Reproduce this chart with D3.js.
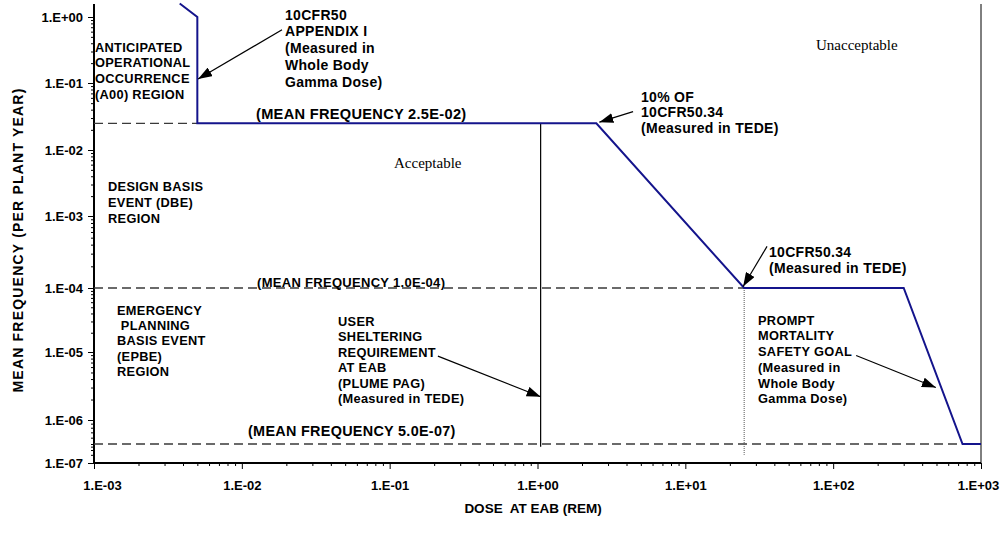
<!DOCTYPE html>
<html><head><meta charset="utf-8">
<script src="https://cdn.jsdelivr.net/npm/d3@7"></script>
<style>
html,body{margin:0;padding:0;background:#fff;}
svg{display:block;}
</style></head>
<body>
<svg id="chart" width="1007" height="546"></svg>
<script>
// ---- data ----
const xTickValues = [1e-3, 1e-2, 1e-1, 1e0, 1e1, 1e2, 1e3];
const yTickValues = [1e0, 1e-1, 1e-2, 1e-3, 1e-4, 1e-5, 1e-6, 1e-7];
// limit curve (dose in rem, frequency per plant year)
const limitDose = [0.0038, 0.005, 0.005, 2.5, 25, 300, 750, 1000];
const limitFreq = [1.6, 1.0, 0.025, 0.025, 1e-4, 1e-4, 5e-7, 5e-7];
// mean frequency reference levels (dashed)
const meanFreq = [2.5e-2, 1.0e-4, 5.0e-7];
const meanFreqEndDose = [0.005, 25, 750];
const meanFreqLabels = ["(MEAN FREQUENCY 2.5E-02)", "(MEAN FREQUENCY 1.0E-04)", "(MEAN FREQUENCY 5.0E-07)"];
// PAG vertical line and 10CFR50.34 dotted line
const pagDose = 1.05, pagFreq = [2.5e-2, 4e-7];
const cfrDose = 25, cfrFreq = [1e-4, 2e-7];
// arrows [tailDose, tailFreq, headDose, headFreq]
const arrows = [
  [0.0187, 0.64, 0.00506, 0.115],
  [4.43, 0.0373, 2.62, 0.026],
  [35.7, 3.78e-4, 24.6, 1.05e-4],
  [143, 8.9e-6, 495, 3.0e-6],
  [0.212, 8.7e-6, 1.05, 2.2e-6]
];

// ---- layout ----
const SANS = "'Liberation Sans',Arial,Helvetica,sans-serif";
const SERIF = "'Liberation Serif','Times New Roman',serif";
const svg = d3.select("#chart");
const x = d3.scaleLog().domain([1e-3, 1e3]).range([94, 981]);
// the reference axis has slightly uneven decade spacing; use a piecewise log scale
const y = d3.scaleLog()
  .domain([1e0, 1e-1, 1e-2, 1e-3, 1e-4, 1e-5, 1e-6, 5e-7, 1e-7])
  .range([17, 83, 150, 216, 288, 352, 420, 444, 463]);
const fmt = d => { const e = Math.round(Math.log10(d)); return "1.E" + (e >= 0 ? "+" : "-") + String(Math.abs(e)).padStart(2, "0"); };

svg.append("rect").attr("width", 1007).attr("height", 546).attr("fill", "#fff");

const defs = svg.append("defs");
defs.append("marker").attr("id", "ah").attr("viewBox", "0 0 14 10")
  .attr("refX", 14).attr("refY", 5).attr("markerWidth", 14).attr("markerHeight", 10)
  .attr("markerUnits", "userSpaceOnUse").attr("orient", "auto")
  .append("path").attr("d", "M0,0 L14,5 L0,10 Z").attr("fill", "#000");

// minor ticks
const minorX = [], minorY = [];
for (let e = -3; e < 3; e++) for (let m = 2; m <= 9; m++) minorX.push(m * Math.pow(10, e));
for (let e = -7; e < 0; e++) for (let m = 2; m <= 9; m++) minorY.push(m * Math.pow(10, e));

const xAxis = svg.append("g").attr("transform", "translate(0,463)")
  .call(d3.axisBottom(x).tickValues(xTickValues).tickFormat(fmt).tickSize(6).tickPadding(12));
svg.append("g").attr("transform", "translate(0,463)")
  .call(d3.axisBottom(x).tickValues(minorX).tickFormat("").tickSize(3))
  .call(g => g.select(".domain").remove());
const yAxis = svg.append("g").attr("transform", "translate(94,0)")
  .call(d3.axisLeft(y).tickValues(yTickValues).tickFormat(fmt).tickSize(6).tickPadding(5));
svg.append("g").attr("transform", "translate(94,0)")
  .call(d3.axisLeft(y).tickValues(minorY).tickFormat("").tickSize(3))
  .call(g => g.select(".domain").remove());

[xAxis, yAxis].forEach(g => {
  g.selectAll("text").attr("font-size", 13).attr("font-weight", "bold").attr("fill", "#000")
    .style("font-family", SANS);
  g.selectAll("line").attr("stroke", "#000");
});
svg.selectAll(".domain").attr("stroke", "#000").attr("stroke-width", 2);
yAxis.select(".domain").attr("d", "M0,4V463");
xAxis.select(".domain").attr("d", "M" + x(1e-3) + ",0H" + x(1e3));
yAxis.selectAll(".tick text").attr("dy", "0.35em");
xAxis.selectAll(".tick text").attr("dx", d => d === 1e-3 ? 8 : (d === 1e3 ? -3 : 0));

// right border
svg.append("line").attr("x1", x(1e3)).attr("x2", x(1e3)).attr("y1", 4).attr("y2", 463)
  .attr("stroke", "#000").attr("stroke-width", 1);

// dashed mean frequency lines
meanFreq.forEach((f, i) => {
  svg.append("line").attr("x1", x(1e-3)).attr("x2", x(meanFreqEndDose[i]))
    .attr("y1", y(f)).attr("y2", y(f))
    .attr("stroke", "#3a3a3a").attr("stroke-width", 1.3).attr("stroke-dasharray", "9,5");
});

// PAG vertical solid line
svg.append("line").attr("x1", x(pagDose)).attr("x2", x(pagDose))
  .attr("y1", y(pagFreq[0])).attr("y2", y(pagFreq[1])).attr("stroke", "#000").attr("stroke-width", 1.2);
// 10CFR50.34 dotted line
svg.append("line").attr("x1", x(cfrDose)).attr("x2", x(cfrDose))
  .attr("y1", y(cfrFreq[0])).attr("y2", y(cfrFreq[1])).attr("stroke", "#555").attr("stroke-width", 1).attr("stroke-dasharray", "1,1");

// limit curve
const line = d3.line().x((d, i) => x(limitDose[i])).y((d, i) => y(limitFreq[i]));
svg.append("path").attr("d", line(limitDose)).attr("fill", "none")
  .attr("stroke", "#14148c").attr("stroke-width", 2);

// arrows
arrows.forEach(a => {
  svg.append("line").attr("x1", x(a[0])).attr("y1", y(a[1])).attr("x2", x(a[2])).attr("y2", y(a[3]))
    .attr("stroke", "#000").attr("stroke-width", 1.2).attr("marker-end", "url(#ah)");
});

// text blocks
function block(lines, x0, y0, dy, opts) {
  opts = opts || {};
  const t = svg.append("text").attr("font-size", opts.size || 12.8)
    .attr("font-weight", opts.weight || "bold").attr("fill", "#000")
    .style("font-family", opts.family || SANS)
    .attr("letter-spacing", opts.ls === undefined ? 0.3 : opts.ls).style("white-space", "pre");
  lines.forEach((s, i) => t.append("tspan").attr("x", x0).attr("y", y0 + i * dy + 4.7).text(s));
}
block(["ANTICIPATED", "OPERATIONAL", "OCCURRENCE", "(A00) REGION"], 95, 47, 15.7);
block(["10CFR50", "APPENDIX I", "(Measured in", "Whole Body", "Gamma Dose)"], 285, 15, 16.7, {size: 14});
block([meanFreqLabels[0]], 256, 114, 0, {size: 14.6});
block(["10% OF", "10CFR50.34", "(Measured in TEDE)"], 641, 97, 15.7, {size: 14});
block(["DESIGN BASIS", "EVENT (DBE)", "REGION"], 108, 186, 16);
block([meanFreqLabels[1]], 257, 282, 0, {size: 13});
block(["10CFR50.34", "(Measured in TEDE)"], 769, 252, 16.5, {size: 14});
block(["EMERGENCY", " PLANNING", "BASIS EVENT", "(EPBE)", "REGION"], 117, 310, 15.3);
block(["USER", "SHELTERING", "REQUIREMENT", "AT EAB", "(PLUME PAG)", "(Measured in TEDE)"], 338, 321, 15.5);
block(["PROMPT", "MORTALITY", "SAFETY GOAL", "(Measured in", "Whole Body", "Gamma Dose)"], 758, 320, 15.7);
block([meanFreqLabels[2]], 248, 431, 0, {size: 14.4});
block(["Unacceptable"], 816, 45, 0, {family: SERIF, weight: "normal", size: 15, ls: 0});
block(["Acceptable"], 394, 163, 0, {family: SERIF, weight: "normal", size: 15, ls: 0});

// axis titles
svg.append("text").attr("x", 533).attr("y", 513).attr("text-anchor", "middle")
  .attr("font-size", 13.5).attr("font-weight", "bold").style("white-space", "pre").style("font-family", SANS)
  .text("DOSE  AT EAB (REM)");
svg.append("text").attr("transform", "translate(23,240) rotate(-90)").attr("text-anchor", "middle")
  .attr("font-size", 14).attr("font-weight", "bold").attr("letter-spacing", 1.2).style("font-family", SANS)
  .text("MEAN FREQUENCY (PER PLANT YEAR)");
</script>
</body></html>
